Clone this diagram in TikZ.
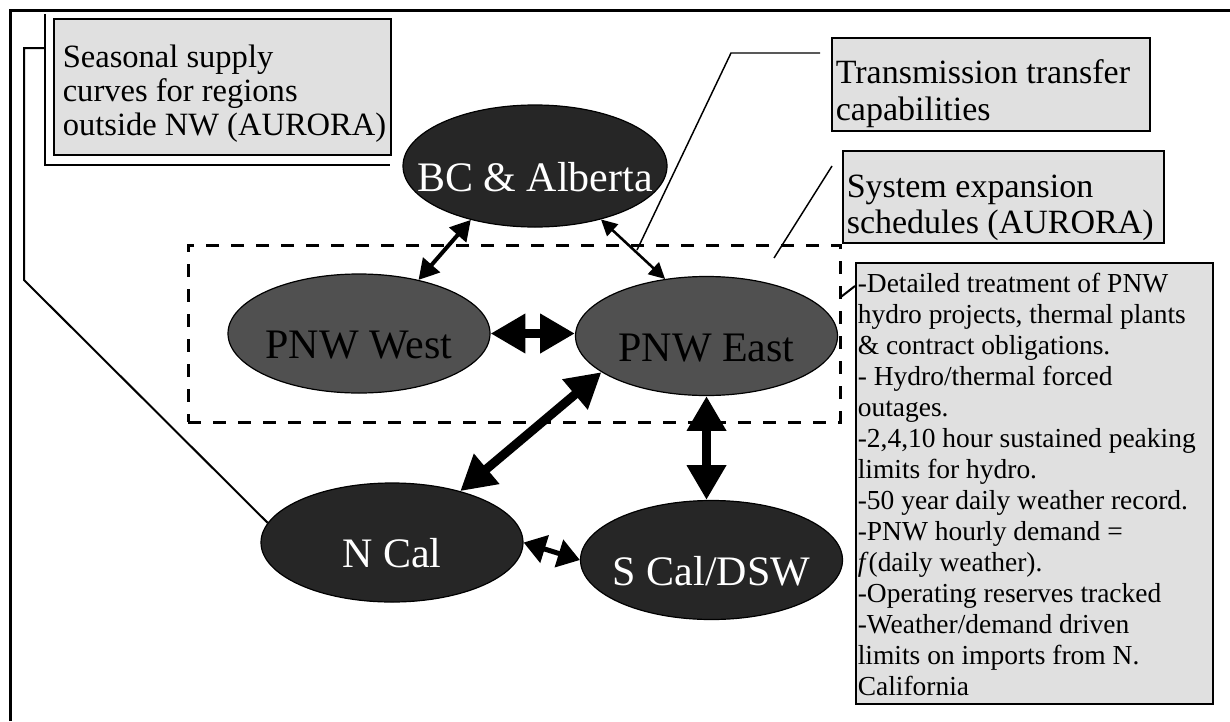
\documentclass[tikz,border=0pt]{standalone}
\usepackage{fontspec}
\setmainfont{Liberation Serif}
\usetikzlibrary{arrows.meta,shapes.geometric,calc}
\definecolor{darkfill}{HTML}{262626}
\definecolor{pnwfill}{HTML}{505050}
\definecolor{boxfill}{HTML}{E0E0E0}
\newcommand\lowtxt[1]{\raisebox{-18.75pt}[0pt][0pt]{\makebox[0pt]{#1}}}
\begin{document}
\begin{tikzpicture}[x=0.75pt,y=-0.75pt,
  regionnode/.style={ellipse, draw=black, line width=0.9pt, minimum width=196.5pt,
    minimum height=89.25pt, inner sep=0pt, font=\fontsize{31.5pt}{34pt}\selectfont},
  darkregion/.style={regionnode, fill=darkfill, text=white},
  pnwregion/.style={regionnode, fill=pnwfill, text=black},
  labelbox/.style={draw=black, line width=1.2pt, fill=boxfill, inner sep=0pt, anchor=north west},
  nwframe/.style={draw=black, line width=2.25pt, dash pattern=on 9.75pt off 9pt,
    minimum width=489pt, minimum height=132.75pt, inner sep=0pt},
  bigarrow/.style={line width=6.75pt, {Triangle[length=26pt,width=28pt]}-{Triangle[length=26pt,width=28pt]}},
  midarrow/.style={line width=3.75pt, {Triangle[length=16.5pt,width=21pt]}-{Triangle[length=16.5pt,width=21pt]}},
  smallarrow/.style={line width=3pt, {Triangle[length=15pt,width=16.5pt]}-{Triangle[length=15pt,width=16.5pt]}},
  tinyarrow/.style={line width=1.9pt, {Triangle[length=12pt,width=12pt]}-{Triangle[length=12pt,width=12pt]}},
  leader/.style={draw=black, line width=1.5pt},
  thinleader/.style={draw=black, line width=1.1pt}]
\useasboundingbox (0,0) rectangle (1230,721);
\fill[white] (0,0) rectangle (1230,721);
% page border
\draw[line width=2.25pt] (10,721) -- (10,10) -- (1230,10);
% dashed NW frame
\node[nwframe] (nwbox) at (514,333.5) {};
% shadow of the seasonal box
\draw[line width=2.2pt] (45,14) -- (45,165) -- (390,165);
% text boxes
\node[labelbox] (seasonal) at (53,18) {\parbox[c][102pt][t]{252.75pt}{\fontsize{24.4pt}{25.5pt}\selectfont\leftskip=6.75pt
\mbox{\rule{0pt}{36.75pt}Seasonal supply}\\
\mbox{curves for regions}\\
\mbox{outside NW (AURORA)}}};
\node[labelbox] (transm) at (831,37) {\parbox[c][69.75pt][t]{238.5pt}{\fontsize{25.5pt}{27.75pt}\selectfont\leftskip=3pt
\mbox{\rule{0pt}{34.5pt}Transmission transfer}\\
\mbox{capabilities}}};
\node[labelbox] (system) at (842,150) {\parbox[c][69pt][t]{240.75pt}{\fontsize{25.5pt}{27pt}\selectfont\leftskip=3pt
\mbox{\rule{0pt}{35.25pt}System expansion}\\
\mbox{schedules (AURORA)}}};
\node[labelbox] (details) at (855,262) {\parbox[c][330.75pt][t]{267.75pt}{\fontsize{20.6pt}{23.25pt}\selectfont\leftskip=1.5pt
\mbox{\rule{0pt}{22.5pt}-Detailed treatment of PNW}\\
\mbox{hydro projects, thermal plants}\\
\mbox{\& contract obligations.}\\
\mbox{- Hydro/thermal forced}\\
\mbox{outages.}\\
\mbox{-2,4,10 hour sustained peaking}\\
\mbox{limits for hydro.}\\
\mbox{-50 year daily weather record.}\\
\mbox{-PNW hourly demand =}\\
\mbox{\textit{f}(daily weather).}\\
\mbox{-Operating reserves tracked}\\
\mbox{-Weather/demand driven}\\
\mbox{limits on imports from N.}\\
\mbox{California}}};
% regions
\node[darkregion, minimum width=198pt, minimum height=91.5pt] (bc) at (535,166) {\lowtxt{BC \& Alberta}};
\node[pnwregion] (west) at (359,333.5) {\lowtxt{PNW West}};
\node[pnwregion] (east) at (706.5,336) {\lowtxt{PNW East}};
\node[darkregion] (ncal) at (392,542.5) {\lowtxt{N Cal}};
\node[darkregion] (scal) at (711.5,560) {\lowtxt{S Cal/DSW}};
% flows
\draw[smallarrow] (bc.220) -- (west.42);
\draw[tinyarrow] (bc.321) -- (east.126);
\draw[bigarrow] (west.east) -- (west.east -| east.west);
\draw[bigarrow] (east.199) -- (ncal.37);
\draw[bigarrow] (east.south) -- (east.south |- scal.north);
\draw[midarrow] (ncal.east) -- (scal.west);
% leaders
\coordinate (tbend) at (731,53);
\coordinate (tend) at (637,250);
\coordinate (stop) at (832,166);
\coordinate (send) at (774,258);
\draw[leader] ($(seasonal.north west)+(-8,30)$) -- ++(-21,0) -- ++(0,232) -- (ncal.171);
\draw[thinleader] ($(transm.north west)+(-11,16)$) -- (tbend) -- (tend);
\draw[thinleader] (stop) -- (send);
\draw[leader] ($(nwbox.north east)+(0,53)$) -- ($(details.north west)+(0,24)$);
\end{tikzpicture}
\end{document}
